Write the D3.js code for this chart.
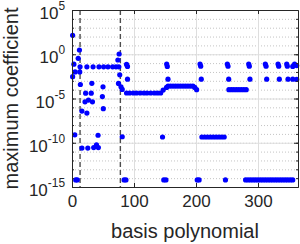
<!DOCTYPE html>
<html>
<head>
<meta charset="utf-8">
<script src="https://cdn.jsdelivr.net/npm/d3@7"></script>
<style>
body { margin: 0; background: #fff; }
svg { display: block; font-family: "Liberation Sans", Arial, sans-serif; }
</style>
</head>
<body>
<svg id="chart"></svg>
<script>
"use strict";
// basis polynomial index and log10 of its maximum coefficient

// scattered points in the first block
var headIdx = [1, 12, 10, 3, 5, 12.5, 1, 13.5, 32, 22, 31, 50, 49, 21, 26.5, 33, 16, 24, 50.5, 76, 74, 77, 75, 79, 81];
var headExp = [2.14, 0.48, -0.46, -1.12, -2.0, -2.0, -2.53, -3.42, -3.28, -4.4, -4.4, -3.68, -4.78, -5.38, -5.18, -5.38, -6.42, -6.65, -6.15, 0.03, -0.65, -2.32, -3.3, -3.68, -3.98];

// flat run near 10^-1.4 in the first block
var plateauIdx = [13, 24, 34, 43.5, 51, 58, 65.5, 71, 75.5];
var plateauExp = [-1.42, -1.42, -1.42, -1.42, -1.42, -1.42, -1.42, -1.42, -1.42];

// groups of three that come back along the axis
var tripIdx = [88, 89.5, 89.5, 152.7, 153.7, 154.8, 206.5, 207.6, 208.5, 250.5, 251.6, 252.7, 285, 286, 287,
               311.8, 313, 314, 332.3, 333.4, 334.4, 346.3, 347.3, 348.4, 356, 359, 362.4, 356, 362.4];
var tripExp = [-1.15, -1.38, -2.82, -1.1, -1.38, -2.82, -1.1, -1.35, -2.82, -1.1, -1.35, -2.82, -1.1, -1.35, -2.82,
               -1.1, -1.35, -2.82, -1.1, -1.35, -2.82, -1.1, -1.35, -2.82, -1.38, -1.1, -1.28, -2.82, -2.84];

// mid level runs
var runIdx = [88, 93, 99, 104, 110, 116, 121, 127, 133, 138, 143, 147, 152.5,
              155, 159, 163, 167, 171, 175, 179, 183, 187, 191, 195, 198, 201,
              253, 257, 261, 265, 269, 273, 277, 281];
var runExp = [-4.38, -4.38, -4.38, -4.38, -4.38, -4.38, -4.38, -4.38, -4.38, -4.38, -4.38, -4.05, -3.75,
              -3.6, -3.6, -3.6, -3.6, -3.6, -3.6, -3.6, -3.6, -3.6, -3.6, -3.6, -3.75, -4.0,
              -4.0, -4.0, -4.0, -4.0, -4.0, -4.0, -4.0, -4.0];

// around 10^-10
var lowIdx = [4.5, 42, 81, 146, 16, 25.5, 35, 39.5, 42.5, 209.5, 214, 218.5, 223, 227.5, 232, 236.5, 241, 245.5];
var lowExp = [-9.1, -9.15, -9.32, -9.35, -10.6, -10.6, -10.55, -10.25, -10.55,
              -9.35, -9.35, -9.35, -9.35, -9.35, -9.35, -9.35, -9.35, -9.35];

// machine precision floor
var floorIdx = [6, 8.5, 84, 87, 148, 151.5, 202, 205, 247.5, 280, 284, 288, 292, 296, 300, 304, 308, 312,
                316, 320, 324, 328, 332, 336, 340, 344, 348, 352, 356];
var floorExp = [-14.2, -14.2, -14.2, -14.2, -14.2, -14.2, -14.2, -14.2, -14.2, -14.2, -14.2, -14.2, -14.2, -14.2,
                -14.2, -14.2, -14.2, -14.2, -14.2, -14.2, -14.2, -14.2, -14.2, -14.2, -14.2, -14.2, -14.2, -14.2, -14.2];

var splitIdx = [13, 78];
var xTicks = [0, 100, 200, 300];
var yTickExp = [5, 0, -5, -10, -15];

var W = 300, H = 244;
var margin = {top: 10, right: 2, bottom: 57, left: 72};
var w = W - margin.left - margin.right, h = H - margin.top - margin.bottom;
var axisCol = "#262626";

var x = d3.scaleLinear().domain([0, 364.5]).range([0, w]);
var y = d3.scaleLog().domain([1e-15, 1e5]).range([h, 0]);
var decades = d3.range(-15, 6).map(function(e) { return Math.pow(10, e); });
var majors = yTickExp.map(function(e) { return Math.pow(10, e); });

var svg = d3.select("#chart").attr("width", W).attr("height", H);
var g = svg.append("g").attr("transform", "translate(" + margin.left + "," + margin.top + ")");

// minor grid (every decade, dotted)
g.append("g").attr("class", "minor-grid")
  .call(d3.axisLeft(y).tickValues(decades).tickSize(-w).tickFormat(""))
  .call(function(a) {
    a.select(".domain").remove();
    a.selectAll("line").attr("stroke", "#c4c4c4").attr("stroke-dasharray", "1,2");
  });

// major grid
g.append("g")
  .call(d3.axisLeft(y).tickValues(majors).tickSize(-w).tickFormat(""))
  .call(function(a) {
    a.select(".domain").remove();
    a.selectAll("line").attr("stroke", "#dedede");
  });
g.append("g").attr("transform", "translate(0," + h + ")")
  .call(d3.axisBottom(x).tickValues(xTicks).tickSize(-h).tickFormat(""))
  .call(function(a) {
    a.select(".domain").remove();
    a.selectAll("line").attr("stroke", "#dedede");
  });

// dashed split lines
g.selectAll(".split").data(splitIdx).enter().append("line")
  .attr("x1", function(d) { return x(d); })
  .attr("x2", function(d) { return x(d); })
  .attr("y1", 0).attr("y2", h)
  .attr("stroke", "#4d4d4d").attr("stroke-width", 1.4).attr("stroke-dasharray", "5,3");

// points
var groups = [[headIdx, headExp], [plateauIdx, plateauExp], [tripIdx, tripExp], [runIdx, runExp], [lowIdx, lowExp], [floorIdx, floorExp]];
var pts = [];
groups.forEach(function(p) {
  p[0].forEach(function(v, i) { pts.push({idx: v, val: Math.pow(10, p[1][i])}); });
});
g.selectAll(".dot").data(pts).enter().append("circle")
  .attr("cx", function(d) { return x(d.idx); })
  .attr("cy", function(d) { return y(d.val); })
  .attr("r", 2.6)
  .attr("fill", "#0000ff");

// axes, ticks pointing in
function styleAxis(a) {
  a.select(".domain").attr("stroke", axisCol);
  a.selectAll("line").attr("stroke", axisCol);
  a.selectAll("text").attr("fill", axisCol);
}
g.append("g").call(d3.axisLeft(y).tickValues(decades).tickSizeInner(-2).tickSizeOuter(0).tickFormat("")).call(styleAxis);
g.append("g").attr("transform", "translate(" + w + ",0)")
  .call(d3.axisRight(y).tickValues(decades).tickSizeInner(-2).tickSizeOuter(0).tickFormat("")).call(styleAxis);

var yAxis = g.append("g")
  .call(d3.axisLeft(y).tickValues(majors).tickSizeInner(-4).tickSizeOuter(0).tickPadding(7))
  .call(styleAxis);
yAxis.selectAll("text")
  .attr("font-size", 17).attr("font-family", null).attr("dy", "0.5em")
  .text(null)
  .each(function(d) {
    var t = d3.select(this);
    t.append("tspan").text("10");
    t.append("tspan").attr("font-size", "0.7em").attr("dy", "-0.75em").text(Math.round(Math.log10(d)));
  });
g.append("g").attr("transform", "translate(" + w + ",0)")
  .call(d3.axisRight(y).tickValues(majors).tickSizeInner(-4).tickSizeOuter(0).tickFormat("")).call(styleAxis);

g.append("g").attr("transform", "translate(0," + h + ")")
  .call(d3.axisBottom(x).tickValues(xTicks).tickSizeInner(-4).tickSizeOuter(0).tickPadding(8))
  .call(styleAxis)
  .selectAll("text").attr("font-size", 17).attr("font-family", null);
g.append("g")
  .call(d3.axisTop(x).tickValues(xTicks).tickSizeInner(-4).tickSizeOuter(0).tickFormat("")).call(styleAxis);

// labels
svg.append("text")
  .attr("x", margin.left + w / 2).attr("y", 238)
  .attr("text-anchor", "middle").attr("font-size", 20).attr("fill", axisCol)
  .text("basis polynomial");
svg.append("text")
  .attr("transform", "translate(18," + (margin.top + h / 2) + ") rotate(-90)")
  .attr("text-anchor", "middle").attr("font-size", 20).attr("fill", axisCol)
  .text("maximum coefficient");
</script>
</body>
</html>
